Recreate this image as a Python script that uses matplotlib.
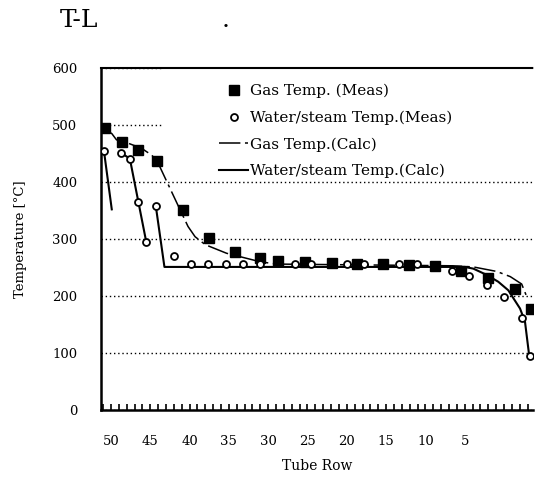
"""
plot.py

T-L temperature profile along the tube rows: measured gas / water-steam
temperatures against calculated curves.
"""
import numpy as np
import matplotlib
matplotlib.use("Agg")
import matplotlib.pyplot as plt
from matplotlib.patches import Rectangle
from matplotlib.ticker import MultipleLocator

nan = np.nan

# Measured gas temperature (squares)
gas_meas_row = [50.8, 48.6, 46.5, 44.2, 40.8, 37.5, 34.2, 31.0, 28.7, 25.3,
                21.9, 18.7, 15.4, 12.1, 8.8, 5.5, 2.0, -1.4, -3.4]
gas_meas_temp = [494, 471, 457, 436, 350, 301, 278, 267, 261, 260,
                 258, 257, 257, 255, 252, 244, 231, 213, 178]

# Measured water/steam temperature (open circles)
water_meas_row = [50.9, 48.7, 47.6, 46.6, 45.5, 44.3, 42.0, 39.8, 37.6, 35.4,
                  33.2, 31.0, 26.6, 24.5, 20.0, 17.8, 13.3, 11.1, 6.65, 4.45,
                  2.2, 0.0, -2.25, -3.3]
water_meas_temp = [455, 451, 441, 365, 294, 358, 270, 256, 256, 256,
                   256, 256, 256, 256, 256, 256, 256, 257, 244, 235,
                   219, 199, 161, 94]

# Calculated gas temperature (dash-dot)
gas_calc_row = [51.3, 49.9, 49.3, 47.8, 46.1, 44.8, 44.0, 41.2, 40.2, 39.3,
                38.0, 35.3, 31.0, 28.9, 6.5, 3.9, 0.9, -0.8, -2.25, -2.8]
gas_calc_temp = [496, 485, 474, 468, 459, 447, 433, 351, 322, 304,
                 290, 275, 260, 256, 253, 251, 243, 234, 221, 202]

# Calculated water/steam temperature (solid, separate passes split by nan)
water_calc_row = [50.9, 49.9, nan, 48.7, 47.6, 45.5, nan, 44.3, 43.2, 5.0,
                  3.9, 2.2, 0.73, -0.55, -2.04, -2.67, -3.2]
water_calc_temp = [455, 352, nan, 451, 441, 294, nan, 358, 251, 251,
                   248, 237, 225, 210, 178, 155, 96]

y_ticks = [0, 100, 200, 300, 400, 500, 600]
x_ticks = [50, 45, 40, 35, 30, 25, 20, 15, 10, 5]

plt.rcParams["font.family"] = ["DejaVu Serif"]

fig = plt.figure(figsize=(5.35, 4.8), dpi=100)
ax = fig.add_axes([101 / 535, 70 / 480, 432 / 535, 342 / 480])

ax.set_xlim(51.27, -3.69)
ax.set_ylim(0, 600)
ax.set_axisbelow(True)

# white area behind the legend hides the grid there
ax.add_patch(Rectangle((0.1435, 0.6696), 0.8565, 0.3304, transform=ax.transAxes,
                       facecolor="white", edgecolor="none", zorder=1))

ax.plot(water_calc_row, water_calc_temp, color="black", lw=1.5, zorder=3,
        label="Water/steam Temp.(Calc)")
ax.plot(gas_calc_row, gas_calc_temp, color="black", lw=1.1, zorder=3,
        dashes=(14, 3, 2, 3), label="Gas Temp.(Calc)")
ax.plot(gas_meas_row, gas_meas_temp, ls="none", marker="s", ms=7,
        color="black", zorder=4, label="Gas Temp. (Meas)")
ax.plot(water_meas_row, water_meas_temp, ls="none", marker="o", ms=5,
        mfc="white", mec="black", mew=1.3, zorder=5,
        label="Water/steam Temp.(Meas)")

handles, labels = ax.get_legend_handles_labels()
order = [2, 3, 1, 0]
ax.legend([handles[i] for i in order], [labels[i] for i in order],
          loc="upper left", bbox_to_anchor=(219 / 535, 1 - 84 / 480),
          bbox_transform=fig.transFigure, frameon=False, fontsize=11,
          handlelength=1.9, handletextpad=0.15, labelspacing=0.8,
          borderpad=0, borderaxespad=0)

ax.set_yticks(y_ticks)
ax.set_xticks(x_ticks)
ax.xaxis.set_minor_locator(MultipleLocator(1))
ax.tick_params(axis="y", length=0, pad=17, labelsize=9.5)
ax.tick_params(axis="x", which="both", direction="in", length=4, width=1.2,
               pad=18, labelsize=9.5)
ax.grid(axis="y", color="black", ls=(0, (1, 2)), lw=1.0)

for side in ["left", "bottom"]:
    ax.spines[side].set_linewidth(1.8)
ax.spines["right"].set_visible(False)
ax.spines["top"].set_linestyle((0, (1, 1)))
ax.spines["top"].set_linewidth(1.5)

ax.set_xlabel("Tube Row", fontsize=10, labelpad=8)
ax.set_ylabel("Temperature [°C]", fontsize=9.5)
ax.yaxis.set_label_coords(-0.171, 0.5)

fig.text(60 / 535, 1 - 27 / 480, "T-L", fontsize=18, va="baseline")
fig.text(222 / 535, 1 - 27 / 480, ".", fontsize=18, va="baseline")

fig.savefig("out.png", dpi=100)
